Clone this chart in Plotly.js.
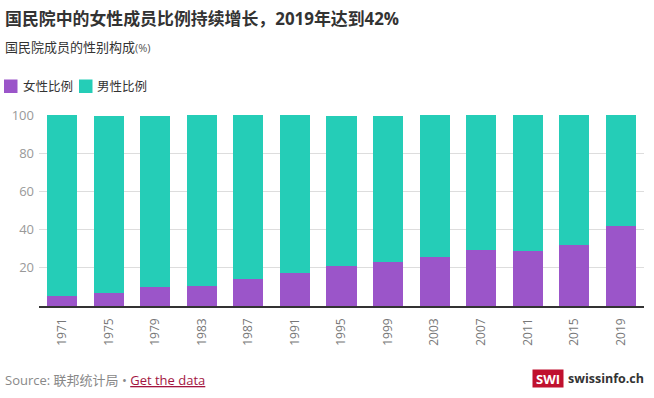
<!DOCTYPE html>
<html>
<head>
<meta charset="utf-8">
<script src="https://cdn.plot.ly/plotly-3.0.1.min.js"></script>
<style>
html,body{margin:0;padding:0;background:#fff;}
#chart{width:654px;height:398px;}
</style>
</head>
<body>
<div id="chart"></div>
<script>
const years = ['1971','1975','1979','1983','1987','1991','1995','1999','2003','2007','2011','2015','2019'];
const women = [5, 7, 10, 10.5, 14.2, 17.3, 21, 23, 25.6, 29.3, 28.8, 31.9, 41.8];
const men   = [95, 92.5, 89.5, 89.5, 85.8, 82.7, 78.5, 76.5, 74.4, 70.7, 71.2, 68.1, 58.2];
const yTicks = [20, 40, 60, 80, 100];
const seriesNames = ['女性比例', '男性比例'];
const seriesColors = ['#9b55c9', '#25cdb7'];

const W = 654, H = 398;
const M = {l: 39, r: 10, t: 114, b: 92, autoexpand: false};
const pw = W - M.l - M.r, ph = H - M.t - M.b;
const px = x => (x - M.l) / pw;
const py = y => (H - M.b - y) / ph;

const FONT = '"Open Sans", "Noto Sans CJK SC", sans-serif';

const traces = [
  {type: 'bar', name: seriesNames[0], x: years, y: women, marker: {color: seriesColors[0]}, hoverinfo: 'x+y'},
  {type: 'bar', name: seriesNames[1], x: years, y: men, marker: {color: seriesColors[1]}, hoverinfo: 'x+y'}
];

// custom legend (swatch + label) positioned in pixels
const legendItems = [{sx: 4, tx: 21}, {sx: 79, tx: 95}];
const legendShapes = legendItems.map((it, i) => ({
  type: 'rect', xref: 'paper', yref: 'paper', layer: 'above',
  x0: px(it.sx), x1: px(it.sx + 13.5), y0: py(79.5), y1: py(93),
  fillcolor: seriesColors[i], line: {width: 0}
}));
const legendLabels = legendItems.map((it, i) => ({
  xref: 'paper', yref: 'paper', x: px(it.tx), y: py(86.5), xanchor: 'left', yanchor: 'middle',
  showarrow: false, text: seriesNames[i], font: {size: 12.5, color: '#333', family: FONT}
}));

const layout = {
  width: W, height: H,
  margin: M,
  barmode: 'stack',
  bargap: 0.355,
  paper_bgcolor: '#fff',
  plot_bgcolor: '#fff',
  font: {family: FONT, color: '#333'},
  showlegend: false,
  xaxis: {
    type: 'category',
    automargin: false,
    tickangle: -90,
    tickfont: {size: 12, color: '#777'},
    showgrid: false,
    showline: true, linecolor: '#333', linewidth: 1.5,
    ticks: '', ticklabelstandoff: 6,
    fixedrange: true
  },
  yaxis: {
    automargin: false,
    range: [0, 100.5],
    tickvals: yTicks,
    ticktext: yTicks.map(String),
    tickfont: {size: 13, color: '#999'},
    showgrid: true, gridcolor: '#ddd', gridwidth: 1,
    zeroline: false, showline: false,
    ticks: '', ticklabelstandoff: 4,
    fixedrange: true
  },
  shapes: legendShapes,
  annotations: legendLabels.concat([
    {xref: 'paper', yref: 'paper', x: px(3), y: py(18), xanchor: 'left', yanchor: 'middle', showarrow: false,
     text: '<b>国民院中的女性成员比例持续增长，2019年达到42%</b>', font: {size: 16.9, color: '#333', family: FONT}},
    {xref: 'paper', yref: 'paper', x: px(3), y: py(47), xanchor: 'left', yanchor: 'middle', showarrow: false,
     text: '国民院成员的性别构成<span style="font-size:11px;color:#555">(%)</span>', font: {size: 13, color: '#333', family: FONT}},
    {xref: 'paper', yref: 'paper', x: px(3), y: py(380), xanchor: 'left', yanchor: 'middle', showarrow: false,
     text: 'Source: 联邦统计局 • <span style="color:#a3153f"><u>Get the data</u></span>', font: {size: 13, color: '#888', family: FONT}},
    {xref: 'paper', yref: 'paper', x: px(548), y: py(378), xanchor: 'center', yanchor: 'middle', showarrow: false,
     text: '<b>SWI</b>', bgcolor: '#c0112e', borderpad: 1, width: 28, height: 15, font: {size: 13, color: '#fff', family: '"Open Sans", sans-serif'}},
    {xref: 'paper', yref: 'paper', x: px(646), y: py(378), xanchor: 'right', yanchor: 'middle', showarrow: false,
     text: '<b>swissinfo.ch</b>', font: {size: 12.5, color: '#333', family: '"Open Sans", sans-serif'}}
  ])
};

Plotly.newPlot('chart', traces, layout, {displayModeBar: false, staticPlot: true});
</script>
</body>
</html>
